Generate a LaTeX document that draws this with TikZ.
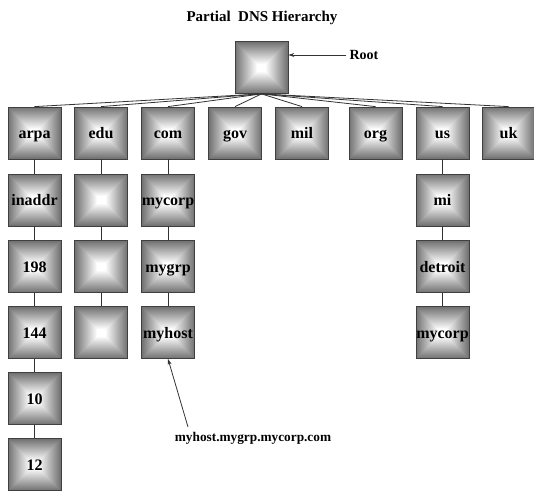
\documentclass[tikz,border=0pt]{standalone}
\usepackage{fontspec}
\setmainfont{Liberation Serif}
\usetikzlibrary{arrows.meta,calc}

\tikzset{
  sqbox/.style={
    draw=black!75, line width=0.8pt, inner sep=0pt,
    minimum width=53pt, minimum height=52pt,
    text height=14pt, text depth=3pt,
    font=\bfseries\fontsize{16}{18}\selectfont,
    path picture={
      \foreach \k [evaluate=\k as \pct using {max(0,55-2.5*\k)}] in {0,...,26}
        \fill[black!\pct]
          ([shift={(\k pt,\k pt)}]path picture bounding box.south west)
          rectangle
          ([shift={(-\k pt,-\k pt)}]path picture bounding box.north east);
    }
  },
  link/.style={draw=black!80, line width=0.8pt},
  pointer/.style={draw=black!80, line width=0.8pt, -{Stealth[length=6pt,width=4pt]}},
  caption/.style={font=\bfseries\fontsize{14}{16}\selectfont}
}

\begin{document}
\begin{tikzpicture}[x=1pt,y=-1pt]
\useasboundingbox (0,0) rectangle (534,490);

% title and root
\node[caption, font=\bfseries\fontsize{15}{17}\selectfont] (title) at (262,18) {Partial\ \ DNS Hierarchy};
\node[sqbox] (root) at (261.5,67.5) {};
\node[caption, anchor=west] (rootlbl) at (346,55) {Root};
\draw[pointer] (rootlbl.west) -- (root.east |- rootlbl.west);

% top level domains
\node[sqbox] (arpa) at (34.5,133) {arpa};
\node[sqbox] (edu)  at (101,133) {edu};
\node[sqbox] (com)  at (168,133) {com};
\node[sqbox] (gov)  at (235,133) {gov};
\node[sqbox] (mil)  at (302,133) {mil};
\node[sqbox] (org)  at (375.5,133) {org};
\node[sqbox] (us)   at (442.5,133) {us};
\node[sqbox] (uk)   at (508.5,133) {uk};

\foreach \t in {arpa,edu,com,gov,mil,org,us,uk}
  \draw[link] (root.south) -- (\t.north);

% arpa branch
\node[sqbox] (inaddr) at (34.5,200) {inaddr};
\node[sqbox] (n198)   at (34.5,266.5) {198};
\node[sqbox] (n144)   at (34.5,332.5) {144};
\node[sqbox] (n10)    at (34.5,398.5) {10};
\node[sqbox] (n12)    at (34.5,464.5) {12};

% edu branch
\node[sqbox] (edua) at (101,200) {};
\node[sqbox] (edub) at (101,266.5) {};
\node[sqbox] (educ) at (101,332.5) {};

% com branch
\node[sqbox] (mycorp) at (168,200) {mycorp};
\node[sqbox] (mygrp)  at (168,266.5) {mygrp};
\node[sqbox] (myhost) at (168,332.5) {myhost};

% us branch
\node[sqbox] (mi)      at (442.5,200) {mi};
\node[sqbox] (detroit) at (442.5,266.5) {detroit};
\node[sqbox] (usmycorp) at (442.5,332.5) {mycorp};

\foreach \a/\b in {arpa/inaddr,inaddr/n198,n198/n144,n144/n10,n10/n12,
                   edu/edua,edua/edub,edub/educ,
                   com/mycorp,mycorp/mygrp,mygrp/myhost,
                   us/mi,mi/detroit,detroit/usmycorp}
  \draw[link] (\a.south) -- (\b.north);

% fully qualified name
\node[caption, font=\bfseries\fontsize{13.3}{15}\selectfont] (fqdn) at (253,438) {myhost.mygrp.mycorp.com};
\coordinate (ptr) at (188,427);
\draw[pointer] (ptr) -- (myhost.south);
\end{tikzpicture}
\end{document}
